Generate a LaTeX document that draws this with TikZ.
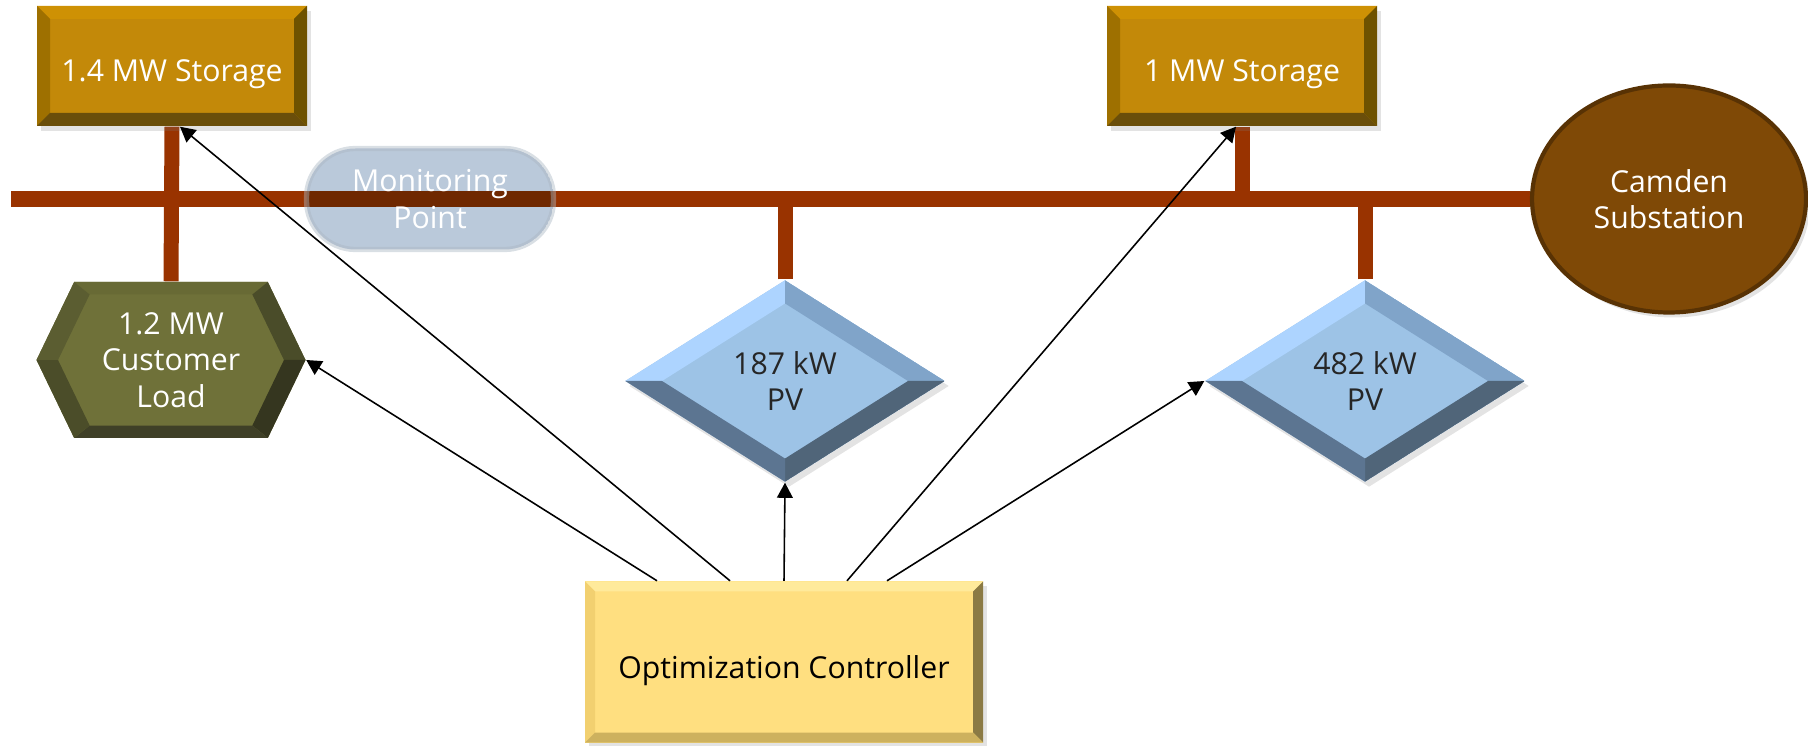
\documentclass[tikz,border=0pt]{standalone}
\usepackage{fontspec}
\setmainfont{Open Sans}
\usetikzlibrary{arrows.meta,calc,positioning,shapes.geometric,shadows,backgrounds}
\definecolor{busc}{RGB}{153,51,0}
\definecolor{stface}{RGB}{195,137,9}
\definecolor{sttop}{RGB}{206,145,4}
\definecolor{stleft}{RGB}{158,112,0}
\definecolor{stright}{RGB}{110,82,0}
\definecolor{stbot}{RGB}{106,78,10}
\definecolor{ldface}{RGB}{111,113,57}
\definecolor{ldtop}{RGB}{104,106,53}
\definecolor{ldul}{RGB}{91,93,49}
\definecolor{ldll}{RGB}{75,77,41}
\definecolor{ldbot}{RGB}{63,64,39}
\definecolor{ldlr}{RGB}{53,54,31}
\definecolor{ldur}{RGB}{74,76,41}
\definecolor{pvface}{RGB}{157,195,230}
\definecolor{pvnw}{RGB}{173,212,255}
\definecolor{pvne}{RGB}{128,164,201}
\definecolor{pvse}{RGB}{80,101,121}
\definecolor{pvsw}{RGB}{92,117,145}
\definecolor{mon}{RGB}{186,201,218}
\definecolor{subst}{RGB}{127,73,6}
\definecolor{subedge}{RGB}{88,50,4}
\definecolor{ctface}{RGB}{255,223,128}
\definecolor{cttop}{RGB}{255,234,155}
\definecolor{ctleft}{RGB}{242,208,112}
\definecolor{ctright}{RGB}{139,122,68}
\definecolor{ctbot}{RGB}{205,177,94}
\definecolor{ink}{RGB}{38,38,38}
% Abschrägung eines Rechtecks: Tiefe, oben, links, rechts, unten
\newcommand{\bevelrect}[5]{%
  \coordinate (pa) at (path picture bounding box.north west);
  \coordinate (pb) at (path picture bounding box.north east);
  \coordinate (pc) at (path picture bounding box.south east);
  \coordinate (pd) at (path picture bounding box.south west);
  \fill[#2] (pa) -- (pb) -- ($(pb)+(-#1,-#1)$) -- ($(pa)+(#1,-#1)$) -- cycle;
  \fill[#3] (pa) -- (pd) -- ($(pd)+(#1,#1)$) -- ($(pa)+(#1,-#1)$) -- cycle;
  \fill[#4] (pb) -- (pc) -- ($(pc)+(-#1,#1)$) -- ($(pb)+(-#1,-#1)$) -- cycle;
  \fill[#5] (pd) -- (pc) -- ($(pc)+(-#1,#1)$) -- ($(pd)+(#1,#1)$) -- cycle;
}
% Abschrägung einer Raute: Faktor, NW, NO, SO, SW
\newcommand{\beveldiamond}[5]{%
  \coordinate (pm) at (path picture bounding box.center);
  \coordinate (pn) at (path picture bounding box.north);
  \coordinate (pe) at (path picture bounding box.east);
  \coordinate (ps) at (path picture bounding box.south);
  \coordinate (pw) at (path picture bounding box.west);
  \fill[#2] (pn) -- (pw) -- ($(pm)!#1!(pw)$) -- ($(pm)!#1!(pn)$) -- cycle;
  \fill[#3] (pn) -- (pe) -- ($(pm)!#1!(pe)$) -- ($(pm)!#1!(pn)$) -- cycle;
  \fill[#4] (ps) -- (pe) -- ($(pm)!#1!(pe)$) -- ($(pm)!#1!(ps)$) -- cycle;
  \fill[#5] (ps) -- (pw) -- ($(pm)!#1!(pw)$) -- ($(pm)!#1!(ps)$) -- cycle;
}
% Sechseck mit Abschrägung: Faktor, Fläche, dann die sechs Kanten im Uhrzeigersinn ab oben
\newcommand{\bevelhex}[8]{%
  \coordinate (pm) at (path picture bounding box.center);
  \coordinate (h1) at ($(path picture bounding box.north west)!0.14!(path picture bounding box.north east)$);
  \coordinate (h2) at ($(path picture bounding box.north west)!0.86!(path picture bounding box.north east)$);
  \coordinate (h3) at (path picture bounding box.east);
  \coordinate (h4) at ($(path picture bounding box.south west)!0.86!(path picture bounding box.south east)$);
  \coordinate (h5) at ($(path picture bounding box.south west)!0.14!(path picture bounding box.south east)$);
  \coordinate (h6) at (path picture bounding box.west);
  \fill[#2] (h1) -- (h2) -- (h3) -- (h4) -- (h5) -- (h6) -- cycle;
  \foreach \a/\b/\fc in {1/2/#3, 2/3/#4, 3/4/#5, 4/5/#6, 5/6/#7, 6/1/#8}
    \fill[fill=\fc] (h\a) -- (h\b) -- ($(pm)!#1!(h\b)$) -- ($(pm)!#1!(h\a)$) -- cycle;
}
\tikzset{
  every picture/.style={line cap=butt, line join=miter},
  every node/.style={font=\fontsize{8.6}{10.4}\selectfont, align=center, inner sep=0pt},
  % Leitungen
  busline/.style={busc, line width=0.16cm},
  stub/.style={busc, line width=0.15cm},
  ctl/.style={black, line width=0.45pt, -{Triangle[length=4.3pt,width=4.5pt]}},
  % Schatten
  soft/.style={drop shadow={shadow xshift=0.04cm, shadow yshift=-0.05cm, opacity=0.22}},
  % Knoten
  storage/.style={rectangle, minimum width=2.7cm, minimum height=1.2cm, fill=stface, text=white, soft,
    text height=0.38cm, path picture={\bevelrect{0.13cm}{sttop}{stleft}{stright}{stbot}}},
  loadhex/.style={rectangle, minimum width=2.69cm, minimum height=1.56cm, text=white, text depth=0pt,
    path picture={\bevelhex{0.84}{ldface}{ldtop}{ldur}{ldlr}{ldbot}{ldll}{ldul}}},
  pv/.style={diamond, minimum width=3.2cm, minimum height=2.02cm, fill=pvface, text=ink, soft,
    path picture={\beveldiamond{0.77}{pvnw}{pvne}{pvse}{pvsw}}},
  monitor/.style={rectangle, rounded corners=0.49cm, minimum width=2.47cm, minimum height=1.01cm,
    text=white, draw=mon!75!gray, draw opacity=0.45, line width=1.5pt,
    path picture={\fill[mon, blend mode=multiply] (path picture bounding box.south west)
      rectangle (path picture bounding box.north east);}},
  substation/.style={ellipse, minimum width=2.74cm, minimum height=2.27cm, fill=subst, text=white,
    draw=subedge, line width=1.2pt, soft},
  controller/.style={rectangle, minimum width=3.98cm, minimum height=1.61cm, fill=ctface, text=black, soft,
    text height=0.4cm, path picture={\bevelrect{0.1cm}{cttop}{ctleft}{ctright}{ctbot}}},
}
\begin{document}
\begin{tikzpicture}
  \useasboundingbox (0,0) rectangle (18.08,7.45);
  % ---------- Komponenten ----------
  \node[storage] (stor1) at (1.72,6.79) {1.4 MW Storage};
  \node[storage] (stor2) at (12.42,6.79) {1 MW Storage};
  \node[loadhex] (load) at (1.71,3.85) {1.2 MW\\Customer\\Load};
  \node[pv] (pv1) at (7.85,3.64) {187 kW\\PV};
  \node[pv] (pv2) at (13.65,3.64) {482 kW\\PV};
  \node[substation] (sub) at (16.69,5.46) {Camden\\Substation};
  \node[controller] (ctrl) at (7.84,0.83) {Optimization Controller};
  \coordinate (busL) at (0.11,5.46);
  % ---------- Sammelschiene ----------
  \begin{scope}[on background layer]
    \draw[busline] (busL) -- (sub.west);
    \draw[stub] (stor1.south) -- (load.north);
    \draw[stub] (stor2.south) -- ([yshift=-0.07cm]stor2.south |- sub.west);
    \draw[stub] (pv1.north) -- (pv1.north |- sub.west);
    \draw[stub] (pv2.north) -- (pv2.north |- sub.west);
  \end{scope}
  \node[monitor] (mon) at (4.30,5.46) {Monitoring\\Point};
  % ---------- Steuerung ----------
  \foreach \dx/\dst in {-1.27/load.east, 0/pv1.south, 1.03/pv2.west}
    \draw[ctl] ([xshift=\dx cm]ctrl.north) -- (\dst);
  \draw[ctl] ([xshift=-0.54cm]ctrl.north) -- ([xshift=0.08cm]stor1.south);
  \draw[ctl] ([xshift=0.63cm]ctrl.north) -- ([xshift=-0.06cm]stor2.south);
\end{tikzpicture}
\end{document}
